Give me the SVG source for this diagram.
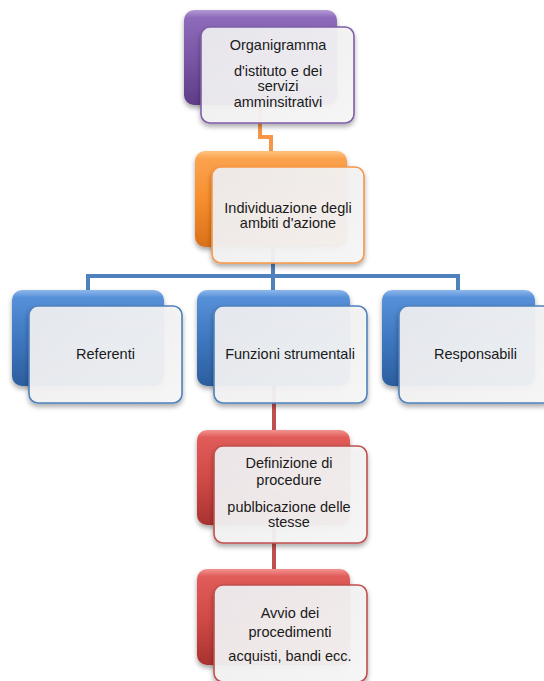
<svg xmlns="http://www.w3.org/2000/svg" width="544" height="681" viewBox="0 0 544 681">
<defs>
<linearGradient id="gPurple" x1="0" y1="0" x2="0" y2="1">
<stop offset="0" stop-color="#B49AD6"/><stop offset="0.08" stop-color="#8E6BBA"/><stop offset="0.5" stop-color="#7B56A6"/><stop offset="1" stop-color="#5E3D87"/>
</linearGradient>
<linearGradient id="gOrange" x1="0" y1="0" x2="0" y2="1">
<stop offset="0" stop-color="#FFC47F"/><stop offset="0.08" stop-color="#FBA24E"/><stop offset="0.5" stop-color="#F78F2E"/><stop offset="1" stop-color="#D9701A"/>
</linearGradient>
<linearGradient id="gBlue" x1="0" y1="0" x2="0" y2="1">
<stop offset="0" stop-color="#8EB8EC"/><stop offset="0.08" stop-color="#5690D8"/><stop offset="0.5" stop-color="#3F78C2"/><stop offset="1" stop-color="#2C5E9E"/>
</linearGradient>
<linearGradient id="gRed" x1="0" y1="0" x2="0" y2="1">
<stop offset="0" stop-color="#F29290"/><stop offset="0.08" stop-color="#E05C59"/><stop offset="0.5" stop-color="#D24B48"/><stop offset="1" stop-color="#A9322F"/>
</linearGradient>
<linearGradient id="gFront" x1="0" y1="0" x2="1" y2="1">
<stop offset="0" stop-color="#EFEFF1"/><stop offset="1" stop-color="#F8F8F8"/>
</linearGradient>
<filter id="sh" x="-10%" y="-10%" width="125%" height="130%">
<feDropShadow dx="0" dy="3" stdDeviation="2.5" flood-color="#000" flood-opacity="0.35"/>
</filter>
</defs>
<style>
.back{stroke:none;filter:url(#sh)}
.front{fill:url(#gFront);fill-opacity:0.93;stroke-width:1.6;filter:url(#sh)}
.p{fill:url(#gPurple)} .o{fill:url(#gOrange)} .b{fill:url(#gBlue)} .r{fill:url(#gRed)}
.fp{stroke:#7E5FA9} .fo{stroke:#F79646} .fb{stroke:#4F81BD} .fr{stroke:#C0504D}
.conn{fill:none;stroke-width:4}
text{font-family:"Liberation Sans",Arial,sans-serif;font-size:14.5px;fill:#1a1a1a;text-anchor:middle}
</style>
<g id="connectors">
<path class="conn" stroke="#F79646" d="M260,105 V137 H271 V151"/>
<path class="conn" stroke="#4F81BD" d="M273,247 V290 M88,290 V276 H458 V290"/>
<path class="conn" stroke="#C0504D" d="M274,386 V430 M274,525 V569"/>
</g>
<g id="node-organigramma">
<rect class="back p" x="184" y="10" width="153" height="95" rx="10"/>
<rect class="front fp" x="201" y="27" width="153" height="96" rx="9"/>
<text x="278" y="50">Organigramma</text>
<text x="278" y="76">d'istituto e dei</text>
<text x="278" y="91">servizi</text>
<text x="278" y="107">amminsitrativi</text>
</g>
<g id="node-individuazione">
<rect class="back o" x="195" y="151" width="152" height="96" rx="10"/>
<rect class="front fo" x="212" y="167" width="152" height="96" rx="9"/>
<text x="288" y="213">Individuazione degli</text>
<text x="288" y="228">ambiti d'azione</text>
</g>
<g id="node-referenti">
<rect class="back b" x="12" y="290" width="152" height="96" rx="10"/>
<rect class="front fb" x="29" y="306" width="153" height="97" rx="9"/>
<text x="105.5" y="359">Referenti</text>
</g>
<g id="node-funzioni">
<rect class="back b" x="197" y="290" width="153" height="96" rx="10"/>
<rect class="front fb" x="214" y="306" width="153" height="97" rx="9"/>
<text x="290" y="359">Funzioni strumentali</text>
</g>
<g id="node-responsabili">
<rect class="back b" x="382" y="290" width="153" height="96" rx="10"/>
<rect class="front fb" x="399" y="306" width="153" height="97" rx="9"/>
<text x="475.5" y="359">Responsabili</text>
</g>
<g id="node-definizione">
<rect class="back r" x="197" y="430" width="153" height="95" rx="10"/>
<rect class="front fr" x="214" y="446" width="153" height="97" rx="9"/>
<text x="289" y="468">Definizione di</text>
<text x="289" y="485">procedure</text>
<text x="289" y="512">publbicazione delle</text>
<text x="289" y="527">stesse</text>
</g>
<g id="node-avvio">
<rect class="back r" x="197" y="569" width="153" height="96" rx="10"/>
<rect class="front fr" x="214" y="585" width="153" height="97" rx="9"/>
<text x="290" y="618">Avvio dei</text>
<text x="290" y="637">procedimenti</text>
<text x="290" y="661">acquisti, bandi ecc.</text>
</g>
</svg>
